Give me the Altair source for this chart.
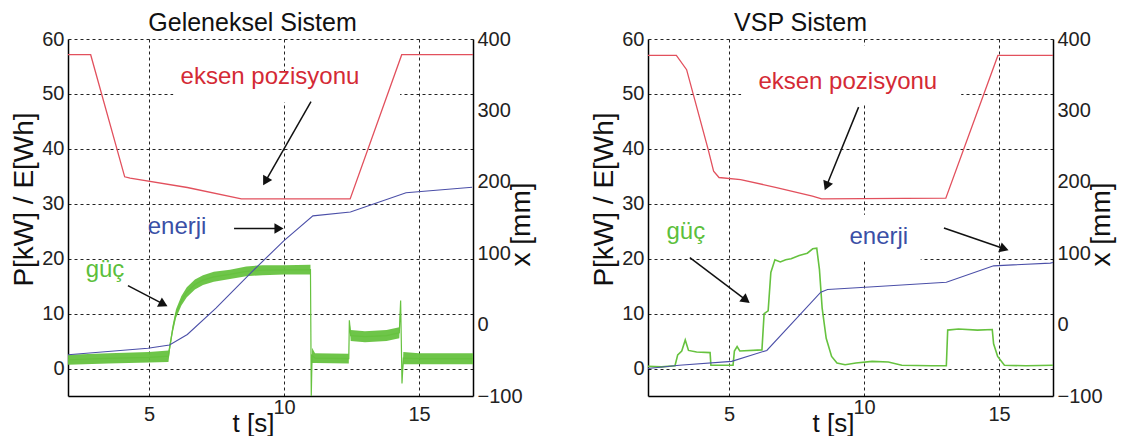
import math
import altair as alt
import pandas as pd

FONT = "Liberation Sans, Arial, sans-serif"
T_DOM = [2, 17]
P_DOM = [-5, 60]
X_DOM = [-100, 400]
W, H = 405, 357

# ---------------- Left panel: Geleneksel Sistem ----------------
L_pos_t = [2.0, 2.84, 4.1, 4.3, 6.42, 8.42, 12.45, 14.36, 17.0]
L_pos_mm = [378, 378, 207, 205, 192, 176, 176, 378, 378]

L_en_t = [2.0, 4.96, 5.76, 6.42, 7.48, 8.81, 10.0, 11.07, 12.46, 14.52, 16.97]
L_en_v = [2.5, 3.7, 4.3, 6.2, 11.0, 17.6, 23.3, 27.8, 28.5, 32.0, 33.0]

L_pow_t = [2.0, 3.5, 5.0, 5.72, 5.78, 5.88, 6.0, 6.2, 6.4, 6.7, 7.0, 7.4, 8.0, 8.6,
           9.2, 10.0, 10.98, 11.01, 11.04, 11.15, 12.4, 12.42, 12.47, 13.0, 13.8,
           14.27, 14.32, 14.37, 14.42, 15.0, 17.0]
L_pow_lo = [0.7, 0.9, 1.1, 1.2, 3.5, 6.5, 9.2, 11.5, 13.0, 14.4, 15.2, 15.8, 16.3, 16.8,
            17.0, 17.1, 17.1, -5.0, 1.0, 1.0, 0.9, 8.8, 5.0, 4.8, 5.0,
            5.5, 12.4, -2.7, 0.8, 0.8, 0.8]
L_pow_hi = [2.5, 2.8, 3.0, 3.3, 5.0, 8.0, 10.8, 13.2, 14.8, 16.2, 17.0, 17.6, 18.0, 18.6,
            18.8, 18.8, 18.9, -5.0, 3.8, 2.8, 2.7, 8.8, 7.0, 6.8, 7.0,
            7.5, 12.4, -2.7, 3.0, 2.8, 2.8]

L_txt = ["eksen pozisyonu", "enerji", "güç"]
L_txt_t = [9.48, 6.04, 3.37]
L_txt_v = [53.0, 25.7, 17.9]
L_txt_c = ["#d42a35", "#3a4fa6", "#5cbf3c"]

L_arr_t1 = [11.0, 8.15, 4.22]
L_arr_v1 = [48.6, 25.5, 15.1]
L_arr_t2 = [9.22, 10.0, 5.7]
L_arr_v2 = [33.3, 25.5, 11.3]

L_box_t1 = [5.9]
L_box_t2 = [14.3]
L_box_v1 = [48.5]
L_box_v2 = [54.0]

# ---------------- Right panel: VSP Sistem ----------------
R_pos_t = [2.0, 3.05, 3.43, 3.83, 4.23, 4.43, 4.63, 5.43, 6.76, 8.09, 8.43, 13.03, 14.96, 17.0]
R_pos_mm = [377, 377, 357, 301, 245, 215, 206, 203, 192, 180, 176, 177, 377, 377]

R_en_t = [2.0, 3.16, 5.1, 6.4, 8.4, 8.65, 10.35, 13.05, 14.8, 16.9, 17.0]
R_en_v = [0.0, 0.6, 1.3, 3.3, 13.9, 14.4, 14.9, 15.7, 18.7, 19.2, 19.3]

R_pow_t = [2.0, 2.5, 3.0, 3.1, 3.25, 3.38, 3.5, 3.8, 4.3, 4.33, 5.15, 5.2, 5.3, 5.4, 6.22,
           6.3, 6.45, 6.55, 6.7, 6.9, 7.1, 7.3, 7.6, 7.9, 8.1, 8.25, 8.35, 8.45, 8.6, 8.8,
           9.0, 9.3, 9.7, 10.3, 10.9, 11.4, 12.5, 13.05, 13.1, 13.5, 14.2, 14.75, 14.8,
           14.95, 15.2, 16.0, 17.0]
R_pow_v = [0.4, 0.3, 0.5, 2.5, 3.2, 5.2, 3.3, 3.0, 2.9, 0.6, 0.6, 3.2, 4.0, 3.2, 3.4,
           10.0, 10.5, 17.5, 19.8, 19.4, 19.8, 20.0, 20.6, 21.0, 21.8, 21.9, 18.0, 11.0, 5.5, 2.2,
           1.0, 0.7, 1.0, 1.3, 1.2, 0.6, 0.5, 0.5, 7.0, 7.2, 7.0, 7.1, 4.5,
           2.2, 0.6, 0.5, 0.6]

R_txt = ["eksen pozisyonu", "güç", "enerji"]
R_txt_t = [9.4, 3.4, 10.55]
R_txt_v = [52.2, 24.8, 23.9]
R_txt_c = ["#d42a35", "#5cbf3c", "#3a4fa6"]

R_arr_t1 = [9.8, 3.55, 12.96]
R_arr_v1 = [47.6, 20.2, 25.6]
R_arr_t2 = [8.54, 5.78, 15.37]
R_arr_v2 = [32.4, 11.9, 21.5]

R_box_t1 = [5.45, 6.5]
R_box_t2 = [13.6, 12.1]
R_box_v1 = [48.0, 19.5]
R_box_v2 = [58.8, 28.0]

RED = "#e2505d"
BLUE = "#4b4fa8"
GREEN = "#66c23f"

SX = W / (T_DOM[1] - T_DOM[0])
SY = H / (P_DOM[1] - P_DOM[0])


def x_axis():
    return alt.Axis(values=[5, 10, 15], title="t [s]", grid=True, gridDash=[3, 3],
                    gridColor="#222", gridWidth=1, domainColor="black", domainWidth=1.5,
                    ticks=False, labelFont=FONT, labelFontSize=20, labelColor="#222",
                    labelPadding={"condition": {"test": "datum.value == 10", "value": 1}, "value": 8},
                    titleFont=FONT, titleFontSize=26, titleFontWeight="normal", titleColor="#111",
                    titleX=185, titleY=35, titleBaseline="alphabetic")


def p_axis():
    return alt.Axis(values=[0, 10, 20, 30, 40, 50, 60], title="P[kW] / E[Wh]", grid=True,
                    gridDash=[3, 3], gridColor="#222", gridWidth=1, domainColor="black",
                    domainWidth=1.5, ticks=False, labelFont=FONT, labelFontSize=20,
                    labelColor="#222", labelPadding=4, titleFont=FONT, titleFontSize=28,
                    titleFontWeight="normal", titleColor="#111", titleAngle=270,
                    titleX=-44, titleY=160, titleBaseline="middle")


def mm_axis():
    return alt.Axis(orient="right", values=[-100, 0, 100, 200, 300, 400], title="x [mm]",
                    grid=False, domainColor="black", domainWidth=1.5, ticks=False,
                    labelFont=FONT, labelFontSize=20, labelColor="#222", labelPadding=4,
                    titleFont=FONT, titleFontSize=28, titleFontWeight="normal",
                    titleColor="#111", titleAngle=270, titleX=48, titleY=185,
                    titleBaseline="middle")


def X(field):
    return alt.X(field, type="quantitative", scale=alt.Scale(domain=T_DOM, nice=False, zero=False), axis=x_axis())


def Y(field):
    return alt.Y(field, type="quantitative", scale=alt.Scale(domain=P_DOM, nice=False, zero=False), axis=p_axis())


def panel(title, tdx, pos_t, pos_mm, en_t, en_v, pw_t, pw_lo, pw_hi,
          txt, txt_t, txt_v, txt_c, a_t1, a_v1, a_t2, a_v2, b_t1, b_t2, b_v1, b_v2):
    boxes = alt.Chart(pd.DataFrame({"t": b_t1, "t2": b_t2, "v": b_v1, "v2": b_v2})).mark_rect(
        color="white").encode(x=X("t"), x2="t2", y=Y("v"), y2="v2")
    layers = [boxes]
    if pw_hi is not None:
        band = pd.DataFrame({"t": pw_t, "lo": pw_lo, "hi": pw_hi})
        band["mid"] = (band["lo"] + band["hi"]) / 2
        layers.append(alt.Chart(band).mark_area(color=GREEN, opacity=0.95, clip=True).encode(
            x=X("t"), y=Y("lo"), y2="hi"))
        layers.append(alt.Chart(band).mark_line(color=GREEN, strokeWidth=1.2, clip=True).encode(
            x=X("t"), y=Y("mid")))
    else:
        layers.append(alt.Chart(pd.DataFrame({"t": pw_t, "v": pw_lo})).mark_line(
            color=GREEN, strokeWidth=1.6, clip=True).encode(x=X("t"), y=Y("v")))
    layers.append(alt.Chart(pd.DataFrame({"t": en_t, "v": en_v})).mark_line(
        color=BLUE, strokeWidth=1.1).encode(x=X("t"), y=Y("v")))
    layers.append(alt.Chart(pd.DataFrame({"s": txt, "t": txt_t, "v": txt_v, "c": txt_c})).mark_text(
        font=FONT, fontSize=24, baseline="middle", align="center").encode(
        x=X("t"), y=Y("v"), text="s:N", color=alt.Color("c:N", scale=None)))
    arr = pd.DataFrame({"t1": a_t1, "v1": a_v1, "t2": a_t2, "v2": a_v2})
    dxp = (arr["t2"] - arr["t1"]) * SX
    dyp = -(arr["v2"] - arr["v1"]) * SY
    L = (dxp ** 2 + dyp ** 2) ** 0.5
    arr["ang"] = [math.degrees(math.atan2(a, -b)) % 360 for a, b in zip(dxp, dyp)]
    back = 5.0
    arr["th"] = arr["t2"] - dxp / L * back / SX
    arr["vh"] = arr["v2"] + dyp / L * back / SY
    layers.append(alt.Chart(arr).mark_rule(color="#111", strokeWidth=1.5).encode(
        x=X("t1"), x2="th", y=Y("v1"), y2="vh"))
    layers.append(alt.Chart(arr).mark_point(shape="triangle-up", filled=True, size=110,
                                            color="#111", opacity=1).encode(
        x=X("th"), y=Y("vh"), angle=alt.Angle("ang:Q", scale=None)))
    left = alt.layer(*layers)
    red = alt.Chart(pd.DataFrame({"t": pos_t, "mm": pos_mm})).mark_line(
        color=RED, strokeWidth=1.3).encode(
        x=X("t"),
        y=alt.Y("mm:Q", scale=alt.Scale(domain=X_DOM, nice=False, zero=False), axis=mm_axis()))
    return alt.layer(left, red).resolve_scale(y="independent").properties(
        width=W, height=H,
        title=alt.TitleParams(title, font=FONT, fontSize=25, fontWeight="normal", color="#111",
                              anchor="middle", dx=tdx, offset=-27, baseline="alphabetic",
                              frame="group"))


left = panel("Geleneksel Sistem", -18, L_pos_t, L_pos_mm, L_en_t, L_en_v, L_pow_t, L_pow_lo, L_pow_hi,
             L_txt, L_txt_t, L_txt_v, L_txt_c, L_arr_t1, L_arr_v1, L_arr_t2, L_arr_v2,
             L_box_t1, L_box_t2, L_box_v1, L_box_v2)
right = panel("VSP Sistem", -50, R_pos_t, R_pos_mm, R_en_t, R_en_v, R_pow_t, R_pow_v, None,
              R_txt, R_txt_t, R_txt_v, R_txt_c, R_arr_t1, R_arr_v1, R_arr_t2, R_arr_v2,
              R_box_t1, R_box_t2, R_box_v1, R_box_v2)

chart = alt.hconcat(left, right, spacing=175, bounds="flush").properties(
    padding={"left": 10, "top": 11, "right": 5, "bottom": 0}, background="white"
).configure_view(stroke=None)

chart.save("out.html", embed_options={"renderer": "svg", "actions": False})
